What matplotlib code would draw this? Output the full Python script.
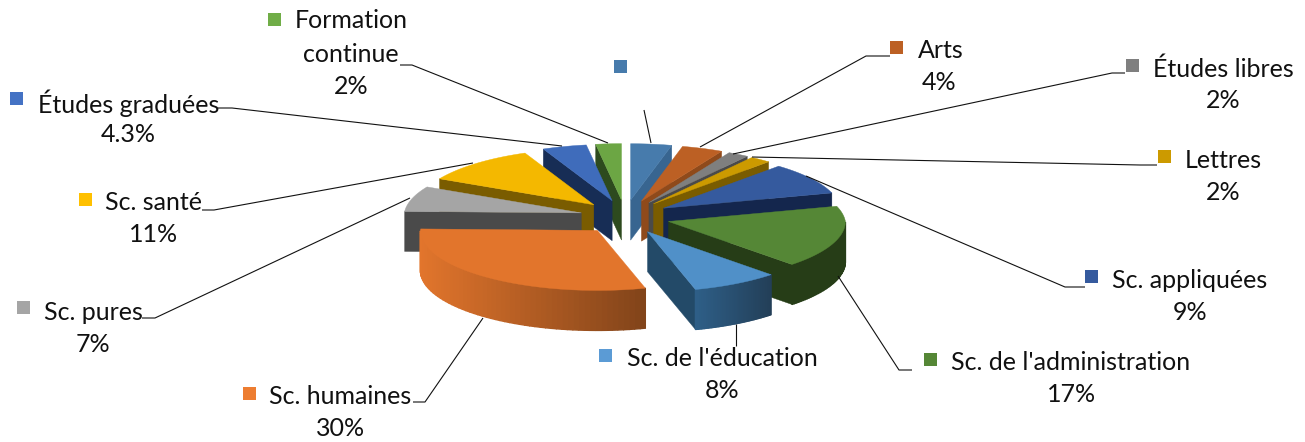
"""Exploded 3D pie of enrolment share by faculty, drawn with plain polygons."""

import matplotlib
matplotlib.use("Agg")
import matplotlib.pyplot as plt
import numpy as np
from matplotlib.colors import to_rgb

plt.rcParams["font.family"] = ["Lato", "DejaVu Sans"]

# clockwise from 12 o'clock
categories = ["", "Arts", "Études libres", "Lettres", "Sc. appliquées",
              "Sc. de l'administration", "Sc. de l'éducation", "Sc. humaines",
              "Sc. pures", "Sc. santé", "Études graduées", "Formation continue"]
values = [4, 4, 2, 2, 9, 17, 8, 30, 7, 11, 4.3, 2.5]
value_labels = ["", "4%", "2%", "2%", "9%", "17%", "8%", "30%", "7%", "11%", "4.3%", "2%"]

top_colors = ["#477BAC", "#BC6024", "#7F7F7F", "#CC9A00", "#355A9E", "#558736",
              "#5090C8", "#E2752C", "#A5A5A5", "#F4B800", "#3F6CBB", "#6CA644"]
cut_colors = ["#386590", "#8F4A1B", "#4A4A4A", "#7A5C00", "#14264D", "#263D17",
              "#234A68", "#8A4A1C", "#4A4A4A", "#7A5C00", "#172D55", "#2D4A1E"]
wall_left = ["#386590", "#8F4A1B", "#4A4A4A", "#7A5C00", "#14264D", "#263D17",
             "#2E5F88", "#E2752C", "#4A4A4A", "#7A5C00", "#172D55", "#2D4A1E"]
wall_right = ["#386590", "#8F4A1B", "#4A4A4A", "#7A5C00", "#14264D", "#263D17",
              "#233F58", "#82441A", "#4A4A4A", "#7A5C00", "#172D55", "#2D4A1E"]
marker_colors = ["#477BAC", "#BC6024", "#7F7F7F", "#CC9A00", "#355A9E", "#558736",
                 "#5B9BD5", "#ED7D31", "#A5A5A5", "#FFC000", "#4472C4", "#70AD47"]

# pie geometry, in pixels
CX, CY = 625, 217
RX, RY = 177, 60
EX, EY = 45, 17
DEPTH = 40
BACK_SHRINK = 0.06  # far side of the pie looks a bit smaller

# marker corner, first-line left edge and y, value-line centre and y, per category
marker_pos = [(614, 60), (890, 41), (1126, 59), (1158, 150), (1085, 270),
              (924, 353), (599, 349), (243, 387), (17, 301), (79, 193), (10, 92), (268, 13)]
name_pos = [None, (918, 50), (1153, 69), (1185, 160), (1112, 280),
            (951, 363), (627, 359), (269, 397), (44, 312), (105, 203), (38, 103), (295, 21)]
value_pos = [None, (939, 83), (1223, 101), (1223, 192), (1190, 312),
             (1072, 395), (722, 391), (341, 429), (93, 344), (154, 235), (128, 135), (351, 87)]

leaders = [
    [(644, 110), (651, 143)],
    [(890, 56), (866, 56), (700, 147)],
    [(1125, 73), (1112, 73), (733, 154)],
    [(1157, 165), (1140, 165), (752, 157)],
    [(1085, 287), (1065, 287), (806, 176)],
    [(912, 370), (899, 370), (838, 276)],
    [(736, 324), (736, 346)],
    [(413, 402), (425, 402), (483, 318)],
    [(142, 318), (155, 318), (410, 198)],
    [(202, 210), (214, 210), (473, 163)],
    [(218, 108), (232, 108), (562, 146)],
    [(400, 65), (412, 65), (608, 143)],
]


def rim_point(apex_x, apex_y, angle):
    s = 1 - BACK_SHRINK * np.maximum(np.cos(angle), 0)
    return apex_x + s * RX * np.sin(angle), apex_y - s * RY * np.cos(angle)


def draw_slice(ax, start, end, i):
    mid = (start + end) / 2
    ax_x = CX + EX * np.sin(mid)
    ax_y = CY - EY * np.cos(mid)
    theta = np.linspace(start, end, 60)
    rim_x, rim_y = rim_point(ax_x, ax_y, theta)

    # cut faces, only the ones turned towards the viewer
    for angle, visible in ((start, np.sin(start) < 0), (end, np.sin(end) > 0)):
        if visible:
            ex, ey = rim_point(ax_x, ax_y, angle)
            ax.fill([ax_x, ex, ex, ax_x], [ax_y, ey, ey + DEPTH, ax_y + DEPTH],
                    color=cut_colors[i], lw=0.3)

    # outer wall, split in thin strips for the shading
    left = np.array(to_rgb(wall_left[i]))
    right = np.array(to_rgb(wall_right[i]))
    x_min, x_max = rim_x.min(), rim_x.max()
    for k in range(len(theta) - 1):
        if np.cos((theta[k] + theta[k + 1]) / 2) > 0:
            continue
        t = (rim_x[k] - x_min) / max(x_max - x_min, 1)
        ax.fill([rim_x[k], rim_x[k + 1], rim_x[k + 1], rim_x[k]],
                [rim_y[k], rim_y[k + 1], rim_y[k + 1] + DEPTH, rim_y[k] + DEPTH],
                color=left + (right - left) * t, lw=1.0)

    ax.fill(np.r_[ax_x, rim_x], np.r_[ax_y, rim_y], color=top_colors[i], lw=0.3)


def main():
    fig = plt.figure(figsize=(13.05, 4.42), dpi=100)
    ax = fig.add_axes([0, 0, 1, 1])
    ax.set_xlim(0, 1305)
    ax.set_ylim(442, 0)
    ax.axis("off")

    edges = np.r_[0, np.cumsum(values)] / np.sum(values) * 2 * np.pi
    mids = (edges[:-1] + edges[1:]) / 2
    # back slices first so the front ones cover them
    for i in np.argsort(-np.cos(mids)):
        draw_slice(ax, edges[i], edges[i + 1], i)

    for line in leaders:
        xs, ys = zip(*line)
        ax.plot(xs, ys, color="#111111", lw=0.8, zorder=5, solid_capstyle="butt")

    size = 13
    for i, cat in enumerate(categories):
        mx, my = marker_pos[i]
        ax.fill([mx, mx + size, mx + size, mx], [my, my, my + size, my + size],
                color=marker_colors[i], lw=0, zorder=6)
        if not cat:
            continue
        name = "Formation" if cat == "Formation continue" else cat
        ax.text(*name_pos[i], name, fontsize=18, color="#111111",
                ha="left", va="center", zorder=6)
        ax.text(*value_pos[i], value_labels[i], fontsize=18, color="#111111",
                ha="center", va="center", zorder=6)
        if cat == "Formation continue":
            ax.text(value_pos[i][0], 55, "continue", fontsize=18, color="#111111",
                    ha="center", va="center", zorder=6)

    fig.savefig("out.png", dpi=100)


if __name__ == "__main__":
    main()
